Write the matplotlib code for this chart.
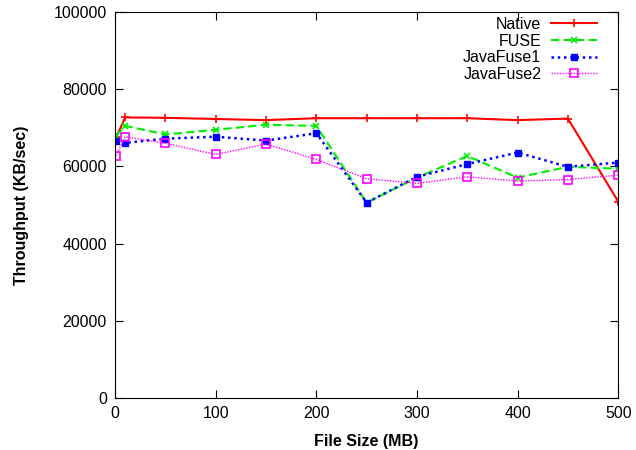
import matplotlib
matplotlib.use("Agg")
import matplotlib.pyplot as plt

plt.rcParams['font.family'] = ['Liberation Sans', 'DejaVu Sans']

# file sizes in MB
sizes = [1, 10, 50, 100, 150, 200, 250, 300, 350, 400, 450, 500]

# throughput in KB/sec
native = [67500, 72700, 72600, 72300, 72000, 72500, 72500, 72500, 72500, 72000, 72400, 50900]
fuse = [68000, 70500, 68300, 69500, 70800, 70500, 50600, 57100, 62700, 57100, 59900, 59400]
javafuse1 = [66700, 66100, 67200, 67700, 66700, 68600, 50600, 57300, 60600, 63600, 59900, 61000]
javafuse2 = [62800, 67700, 66000, 63100, 65800, 61800, 56800, 55600, 57300, 56200, 56600, 57700]

fig = plt.figure(figsize=(6.36, 4.5), dpi=100)
ax = fig.add_axes([0.181, 0.116, 0.791, 0.857])

ax.plot(sizes, native, color='#ff0000', linestyle='-', linewidth=1.5,
        marker='+', markersize=6, markeredgewidth=1.2, label='Native')
ax.plot(sizes, fuse, color='#00ee00', linestyle=(0, (4, 2)), linewidth=1.5,
        marker='x', markersize=5, markeredgewidth=1.2, label='FUSE')
ax.plot(sizes, javafuse1, color='#0000ff', linestyle=(0, (1, 1.5)), linewidth=1.8,
        marker='s', markersize=4, markerfacecolor='#0000ff', label='JavaFuse1')
ax.plot(sizes, javafuse2, color='#ff00ff', linestyle=(0, (1, 1)), linewidth=1.0,
        marker='s', markersize=6, markerfacecolor='none', markeredgewidth=1.2,
        label='JavaFuse2')

ax.set_xlim(0, 500)
ax.set_ylim(0, 100000)
ax.set_xticks(range(0, 501, 100))
ax.set_yticks(range(0, 100001, 20000))
ax.tick_params(direction='in', top=True, right=True, length=6, labelsize=11.5,
               pad=6)
ax.set_xlabel('File Size (MB)', fontsize=11.5, fontweight='bold', labelpad=9)
ax.set_ylabel('Throughput (KB/sec)', fontsize=11.5, fontweight='bold',
              labelpad=18)

ax.legend(loc='upper right', bbox_to_anchor=(0.971, 1.004), frameon=False,
          markerfirst=False, fontsize=11.5, handlelength=2.9,
          labelspacing=0.1, borderaxespad=0, handletextpad=0.6)

fig.savefig('out.png', dpi=100)
